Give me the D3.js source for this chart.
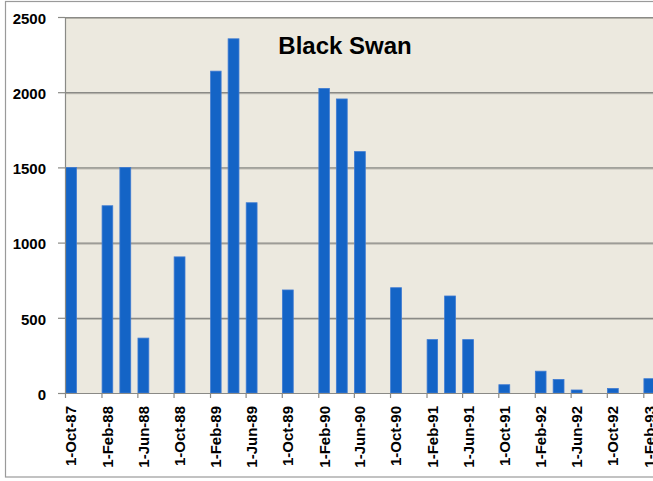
<!DOCTYPE html>
<html><head><meta charset="utf-8">
<script src="https://cdn.jsdelivr.net/npm/d3@7"></script>
<style>body{margin:0;background:#fff}svg{display:block}</style>
</head><body><svg id="c" width="653" height="481"></svg>
<script>
const title = "Black Swan";
const barDates = ["1987-10-01","1988-02-01","1988-04-01","1988-06-01","1988-10-01","1989-02-01","1989-04-01","1989-06-01","1989-10-01","1990-02-01","1990-04-01","1990-06-01","1990-10-01","1991-02-01","1991-04-01","1991-06-01","1991-10-01","1992-02-01","1992-04-01","1992-06-01","1992-10-01","1993-02-01"];
const barValues = [1500,1245,1500,365,905,2140,2355,1265,685,2025,1955,1605,700,355,645,355,55,145,90,20,30,95];
const tickDates = ["1987-10-01","1988-02-01","1988-06-01","1988-10-01","1989-02-01","1989-06-01","1989-10-01","1990-02-01","1990-06-01","1990-10-01","1991-02-01","1991-06-01","1991-10-01","1992-02-01","1992-06-01","1992-10-01","1993-02-01"];
const yTicks = [0,500,1000,1500,2000,2500];

const svg = d3.select("#c");
const parse = d3.utcParse("%Y-%m-%d");
const fmt = d3.utcFormat("%-d-%b-%y");
const pL = 65, pT = 17, pB = 393, pR = 700;

const x = d3.scaleUtc().domain([parse(tickDates[0]), parse(tickDates[tickDates.length-1])]).range([65, 643.3]);
const y = d3.scaleLinear().domain([0, 2500]).range([pB, pT]);

// outer frame
svg.append("rect").attr("x",5.5).attr("y",1.5).attr("width",700).attr("height",475.5)
  .attr("fill","#fff").attr("stroke","#9a9a9a").attr("stroke-width",1.2);
// plot bg
svg.append("rect").attr("x",pL).attr("y",pT).attr("width",pR-pL).attr("height",pB-pT).attr("fill","#ECE9DF");

// gridlines
const g = svg.append("g");
yTicks.filter(v=>v>0).forEach(v=>{
  g.append("line").attr("x1",pL).attr("x2",pR).attr("y1",y(v)+1.5).attr("y2",y(v)+1.5).attr("stroke","#b5b3aa").attr("stroke-width",1);
  g.append("line").attr("x1",pL).attr("x2",pR).attr("y1",y(v)+0.5).attr("y2",y(v)+0.5).attr("stroke","#8a8a86").attr("stroke-width",1.2);
});

// bars
const bw = d => 0.6*(x(d3.utcMonth.offset(d,2)) - x(d));
const data = barDates.map((d,i)=>({d:parse(d), v:barValues[i]}));
svg.append("g").selectAll("rect").data(data).join("rect")
  .attr("x", d=>x(d.d)+0.6).attr("width", d=>bw(d.d))
  .attr("y", d=>y(d.v)).attr("height", d=>y(0)-y(d.v))
  .attr("fill","#1464C6").attr("stroke","#3f7bd2").attr("stroke-width",0.8);

// y axis
const ya = svg.append("g").attr("transform",`translate(${pL},0)`)
  .call(d3.axisLeft(y).tickValues(yTicks).tickSize(7).tickPadding(12).tickFormat(d3.format("d")));
ya.select(".domain").attr("stroke","#8a8a86").attr("stroke-width",1.2);
ya.selectAll(".tick line").attr("stroke","#8a8a86").attr("stroke-width",1.2);
ya.selectAll("text").attr("font-family","Liberation Sans, Arial, sans-serif").attr("font-weight","bold")
  .attr("font-size","15px").attr("fill","#000").attr("dy","0.42em");

// x axis
const xa = svg.append("g").attr("transform",`translate(0,${pB})`)
  .call(d3.axisBottom(x).tickValues(tickDates.map(parse)).tickSize(5).tickFormat(fmt));
xa.select(".domain").attr("stroke","#8a8a86").attr("stroke-width",1.2).attr("d",`M${pL},0.5H${pR}`);
xa.selectAll(".tick line").attr("stroke","#8a8a86").attr("stroke-width",1.2);
xa.selectAll("text").attr("font-family","Liberation Sans, Arial, sans-serif").attr("font-weight","bold")
  .attr("font-size","15px").attr("fill","#000")
  .attr("transform","rotate(-90)").attr("text-anchor","end")
  .attr("x",-13).attr("y",5.5).attr("dy","0.36em");

// title
svg.append("text").attr("x",345).attr("y",54).attr("text-anchor","middle")
  .attr("font-family","Liberation Sans, Arial, sans-serif").attr("font-weight","bold")
  .attr("font-size","24px").attr("fill","#000").text(title);
</script></body></html>
